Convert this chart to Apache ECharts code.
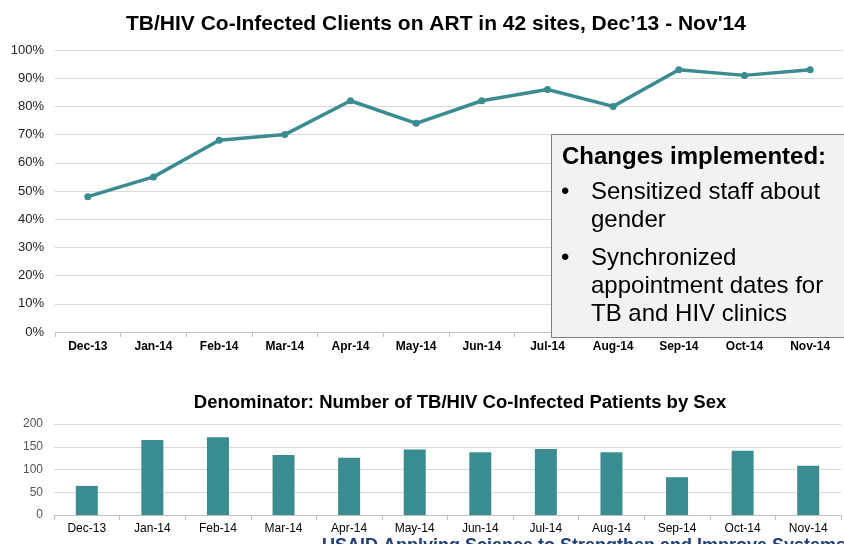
<!DOCTYPE html>
<html>
<head>
<meta charset="utf-8">
<script src="https://cdn.jsdelivr.net/npm/echarts@6/dist/echarts.min.js"></script>
<style>
  html, body { margin: 0; padding: 0; background: #fff; }
  #main { width: 844px; height: 544px; }
</style>
</head>
<body>
<div id="main"></div>
<script>
// data
var months = ['Dec-13','Jan-14','Feb-14','Mar-14','Apr-14','May-14','Jun-14','Jul-14','Aug-14','Sep-14','Oct-14','Nov-14'];
var pctOnArt = [48, 55, 68, 70, 82, 74, 82, 86, 80, 93, 91, 93];
var patients = [64, 165, 171, 132, 126, 144, 138, 145, 138, 83, 141, 108];
var changes = ['Sensitized staff about', 'gender', 'Synchronized', 'appointment dates for', 'TB and HIV clinics'];

var teal = '#3b8c91';
var font = 'Liberation Sans, Arial, sans-serif';

var myChart = echarts.init(document.getElementById('main'));

// text box on the right
var boxEls = [
  {
    type: 'rect', left: 551, top: 134, z: 10,
    shape: { width: 300, height: 203 },
    style: { fill: '#f2f2f2', stroke: '#7f7f7f', lineWidth: 1 }
  },
  {
    type: 'text', left: 562, top: 145, z: 11,
    style: { text: 'Changes implemented:', font: 'bold 24px ' + font, fill: '#000' }
  }
];
var lineY = [180, 208, 246, 274, 302];
changes.forEach(function (t, i) {
  if (i === 0 || i === 2) {
    boxEls.push({ type: 'text', left: 561, top: lineY[i], z: 11,
      style: { text: '•', font: '24px ' + font, fill: '#000' } });
  }
  boxEls.push({ type: 'text', left: 591, top: lineY[i], z: 11,
    style: { text: t, font: '24px ' + font, fill: '#000' } });
});
boxEls.push({
  type: 'text', left: 322, top: 537, z: 11,
  style: { text: 'USAID Applying Science to Strengthen and Improve Systems', font: 'bold 18px ' + font, fill: '#203f7a' }
});

option = {
  animation: false,
  textStyle: { fontFamily: font },
  title: [
    {
      text: 'TB/HIV Co-Infected Clients on ART in 42 sites, Dec\u201913 - Nov\'14',
      left: 431, top: 9, textAlign: 'center',
      textStyle: { fontSize: 21, fontWeight: 'bold', color: '#000' }
    },
    {
      text: 'Denominator: Number of TB/HIV Co-Infected Patients by Sex',
      left: 455, top: 388, textAlign: 'center',
      textStyle: { fontSize: 18.5, fontWeight: 'bold', color: '#000' }
    }
  ],
  grid: [
    { left: 55, right: 1, top: 50, bottom: 212 },
    { left: 54, right: 3, top: 424, bottom: 29 }
  ],
  xAxis: [
    {
      type: 'category', gridIndex: 0, data: months,
      axisLine: { lineStyle: { color: '#bfbfbf' } },
      axisTick: { show: true, lineStyle: { color: '#bfbfbf' } },
      axisLabel: { fontSize: 12, fontWeight: 'bold', color: '#000', margin: 9 }
    },
    {
      type: 'category', gridIndex: 1, data: months,
      axisLine: { lineStyle: { color: '#bfbfbf' } },
      axisTick: { show: true, lineStyle: { color: '#bfbfbf' } },
      axisLabel: { fontSize: 12, color: '#000', margin: 8 }
    }
  ],
  yAxis: [
    {
      type: 'value', gridIndex: 0, min: 0, max: 100, interval: 10,
      axisLine: { show: false }, axisTick: { show: false },
      splitLine: { lineStyle: { color: '#d9d9d9' } },
      axisLabel: { formatter: '{value}%', fontSize: 13, color: '#222', margin: 11 }
    },
    {
      type: 'value', gridIndex: 1, min: 0, max: 200, interval: 50,
      axisLine: { show: false }, axisTick: { show: false },
      splitLine: { lineStyle: { color: '#d9d9d9' } },
      axisLabel: { fontSize: 12, color: '#555', margin: 11 }
    }
  ],
  series: [
    {
      name: 'On ART', type: 'line', xAxisIndex: 0, yAxisIndex: 0,
      data: pctOnArt,
      symbol: 'circle', symbolSize: 7,
      lineStyle: { color: teal, width: 3.5 },
      itemStyle: { color: teal }
    },
    {
      name: 'Patients', type: 'bar', xAxisIndex: 1, yAxisIndex: 1,
      data: patients, barWidth: 22,
      itemStyle: { color: teal }
    }
  ],
  graphic: boxEls
};
myChart.setOption(option);
</script>
</body>
</html>
